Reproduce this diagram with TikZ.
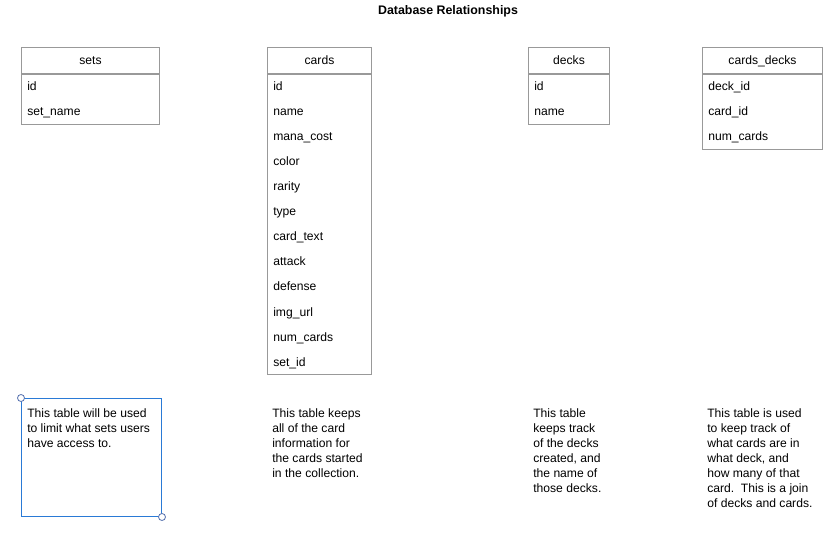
\documentclass[tikz,border=0pt]{standalone}
\usepackage{fontspec}
\setmainfont{Liberation Sans}
\usetikzlibrary{positioning}
\definecolor{tabgray}{HTML}{999999}
\definecolor{selblue}{HTML}{2A7AD6}
\definecolor{handleblue}{HTML}{5470AE}

\begin{document}
\begin{tikzpicture}[x=0.75pt,y=-0.75pt,
        head/.style={
            draw=tabgray,
            line width=0.75pt,
            inner sep=0pt,
            minimum height=19.5pt,
            text height=7pt,
            text depth=1pt,
            anchor=north west,
            font=\fontsize{9.1}{11}\selectfont
        },
        body/.style={
            draw=tabgray,
            line width=0.75pt,
            inner sep=0pt
        },
        field/.style={
            anchor=base west,
            inner sep=0pt,
            font=\fontsize{9.1}{11}\selectfont
        },
        note/.style={
            anchor=north west,
            align=left,
            inner sep=0pt,
            font=\fontsize{9.1}{11.25}\selectfont
        },
        selbox/.style={
            draw=selblue,
            line width=0.75pt,
            inner sep=0pt,
            anchor=north west
        },
        handle/.style={
            draw=handleblue,
            fill=white,
            circle,
            line width=0.6pt,
            inner sep=0pt,
            minimum size=5.25pt
        }
        ]
        \useasboundingbox (0,0) rectangle (827,534);

        \node[font=\bfseries\fontsize{9.3}{11}\selectfont] (title) at (448,11) {Database Relationships};

        % sets
        \node[head,minimum width=103.5pt] (sets) at (21,47) {sets};
        \node[body,minimum width=103.5pt,minimum height=37.5pt,below=0pt of sets] (sets-body) {};
        \foreach \f [count=\i from 0] in {id,set\_name}
            \node[field] (sets-\i) at (27,{91+25*\i}) {\f};

        % cards
        \node[head,minimum width=78pt] (cards) at (267,47) {cards};
        \node[body,minimum width=78pt,minimum height=225pt,below=0pt of cards] (cards-body) {};
        \foreach \f [count=\i from 0] in {id,name,mana\_cost,color,rarity,type,card\_text,attack,defense,img\_url,num\_cards,set\_id}
            \node[field] (cards-\i) at (273,{91+25*\i}) {\f};

        % decks
        \node[head,minimum width=60.75pt] (decks) at (528,47) {decks};
        \node[body,minimum width=60.75pt,minimum height=37.5pt,below=0pt of decks] (decks-body) {};
        \foreach \f [count=\i from 0] in {id,name}
            \node[field] (decks-\i) at (534,{91+25*\i}) {\f};

        % cards_decks
        \node[head,minimum width=90pt] (cdecks) at (702,47) {cards\_decks};
        \node[body,minimum width=90pt,minimum height=56.25pt,below=0pt of cdecks] (cdecks-body) {};
        \foreach \f [count=\i from 0] in {deck\_id,card\_id,num\_cards}
            \node[field] (cdecks-\i) at (708,{91+25*\i}) {\f};

        % notes
        \node[selbox,minimum width=105pt,minimum height=88.5pt] (sel) at (21,398) {};
        \node[handle] (sel-nw) at (sel.north west) {};
        \node[handle] (sel-se) at (sel.south east) {};

        \node[note] (sets-note) at (27,408) {This table will be used\\to limit what sets users\\have access to.};
        \node[note] (cards-note) at (272,408) {This table keeps\\all of the card\\information for\\the cards started\\in the collection.};
        \node[note] (decks-note) at (533,408) {This table\\keeps track\\of the decks\\created, and\\the name of\\those decks.};
        \node[note] (cdecks-note) at (707,408) {This table is used\\to keep track of\\what cards are in\\what deck, and\\how many of that\\card.\ \ This is a join\\of decks and cards.};
\end{tikzpicture}
\end{document}
